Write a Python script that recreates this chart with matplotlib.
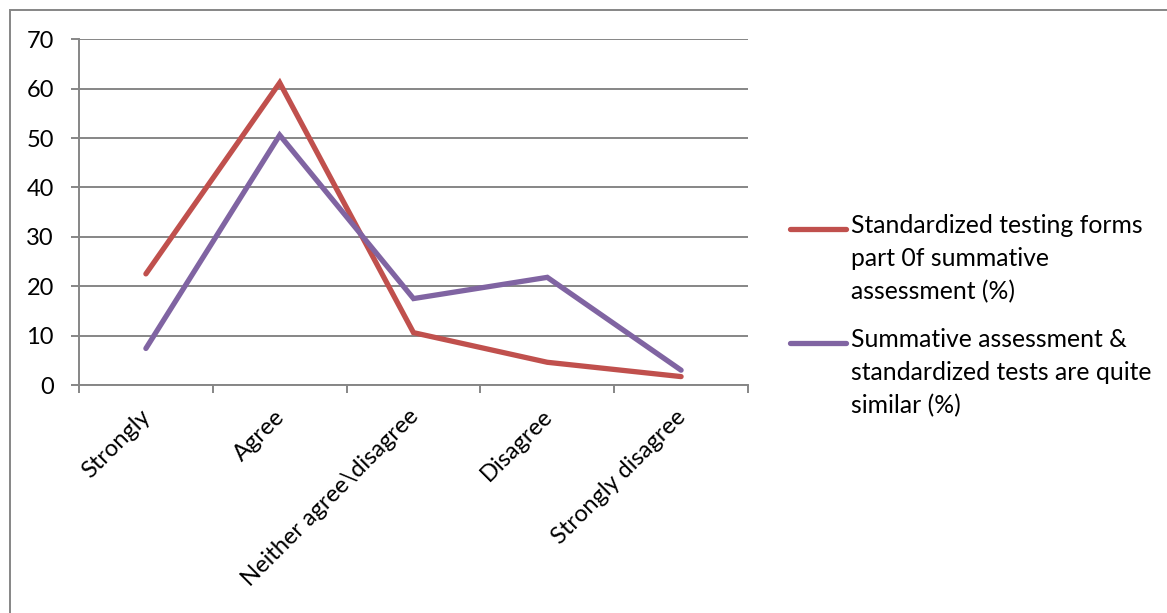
import matplotlib
matplotlib.use("Agg")
import matplotlib.pyplot as plt
import matplotlib.transforms as mtransforms
from matplotlib.legend_handler import HandlerLine2D
from matplotlib.patches import Rectangle
from matplotlib.ticker import FixedLocator

plt.rcParams['font.family'] = ['Lato', 'DejaVu Sans']

categories = ["Strongly", "Agree", "Neither agree\\disagree", "Disagree", "Strongly disagree"]
standardized_part = [22.5, 61.2, 10.6, 4.6, 1.7]
similar_assessment = [7.4, 50.6, 17.5, 21.8, 3.0]
series_labels = [
    "Standardized testing forms\npart 0f summative\nassessment (%)",
    "Summative assessment &\nstandardized tests are quite\nsimilar (%)",
]
y_ticks = [0, 10, 20, 30, 40, 50, 60, 70]

RED = "#C0504D"
PURPLE = "#8064A2"
GRID = "#868686"
FS = 17
LEG_FS = 17.8

W, H = 1167, 613
fig = plt.figure(figsize=(W / 100, H / 100), dpi=100)
ax = fig.add_axes([79 / W, 1 - 385 / H, (748 - 79) / W, (385 - 39.3) / H])

x = list(range(len(categories)))
ax.plot(x, standardized_part, color=RED, lw=3.8, solid_capstyle='round',
        solid_joinstyle='miter', label=series_labels[0])
ax.plot(x, similar_assessment, color=PURPLE, lw=3.8, solid_capstyle='round',
        solid_joinstyle='miter', label=series_labels[1])

ax.set_xlim(-0.5, len(categories) - 0.5)
ax.set_ylim(0, 70)
ax.set_yticks(y_ticks)
ax.yaxis.grid(True, color=GRID, lw=1.4)
ax.set_axisbelow(True)
for s in ("top", "right"):
    ax.spines[s].set_visible(False)
for s in ("left", "bottom"):
    ax.spines[s].set_color(GRID)
    ax.spines[s].set_linewidth(1.4)

ax.tick_params(axis='y', length=6, width=1.4, color=GRID, pad=12,
               labelsize=FS, labelcolor='black')
ax.set_xticks(x)
ax.set_xticklabels(categories, rotation=45, ha='right', va='top', fontsize=FS)
ax.tick_params(axis='x', which='major', length=0, pad=15)
ax.xaxis.set_minor_locator(FixedLocator([i - 0.5 for i in range(len(categories) + 1)]))
ax.tick_params(axis='x', which='minor', length=6, width=1.4, color=GRID)
shift = mtransforms.ScaledTranslation(9 / 100, 0, fig.dpi_scale_trans)
for lab in ax.get_xticklabels():
    lab.set_transform(lab.get_transform() + shift)


class FirstLineHandler(HandlerLine2D):
    """Legend line aligned with the first line of a multi-line label."""

    def __init__(self, lift, **kw):
        super().__init__(**kw)
        self.lift = lift

    def create_artists(self, legend, orig_handle, xdescent, ydescent,
                       width, height, fontsize, trans):
        arts = super().create_artists(legend, orig_handle, xdescent, ydescent,
                                      width, height, fontsize, trans)
        up = mtransforms.Affine2D().translate(0, self.lift * fontsize)
        for a in arts:
            a.set_transform(up + trans)
        return arts


LS = 1.52
handles, labels = ax.get_legend_handles_labels()
leg = fig.legend(handles, labels, loc='center left',
                 bbox_to_anchor=(790 / W, 1 - 316 / H),
                 frameon=False, fontsize=LEG_FS, handlelength=2.25, handletextpad=0.2,
                 labelspacing=1.0, borderpad=0, borderaxespad=0,
                 handler_map={h: FirstLineHandler(LS * 0.83) for h in handles})
for t in leg.get_texts():
    t.set_linespacing(LS)
for h in leg.legend_handles:
    h.set_linewidth(3.8)

fig.patches.append(Rectangle((10 / W, -0.1), 1.2, 1 - 10 / H + 0.1,
                             transform=fig.transFigure, fill=False,
                             edgecolor=GRID, lw=1.4))

fig.savefig("out.png", dpi=100, facecolor='white')
